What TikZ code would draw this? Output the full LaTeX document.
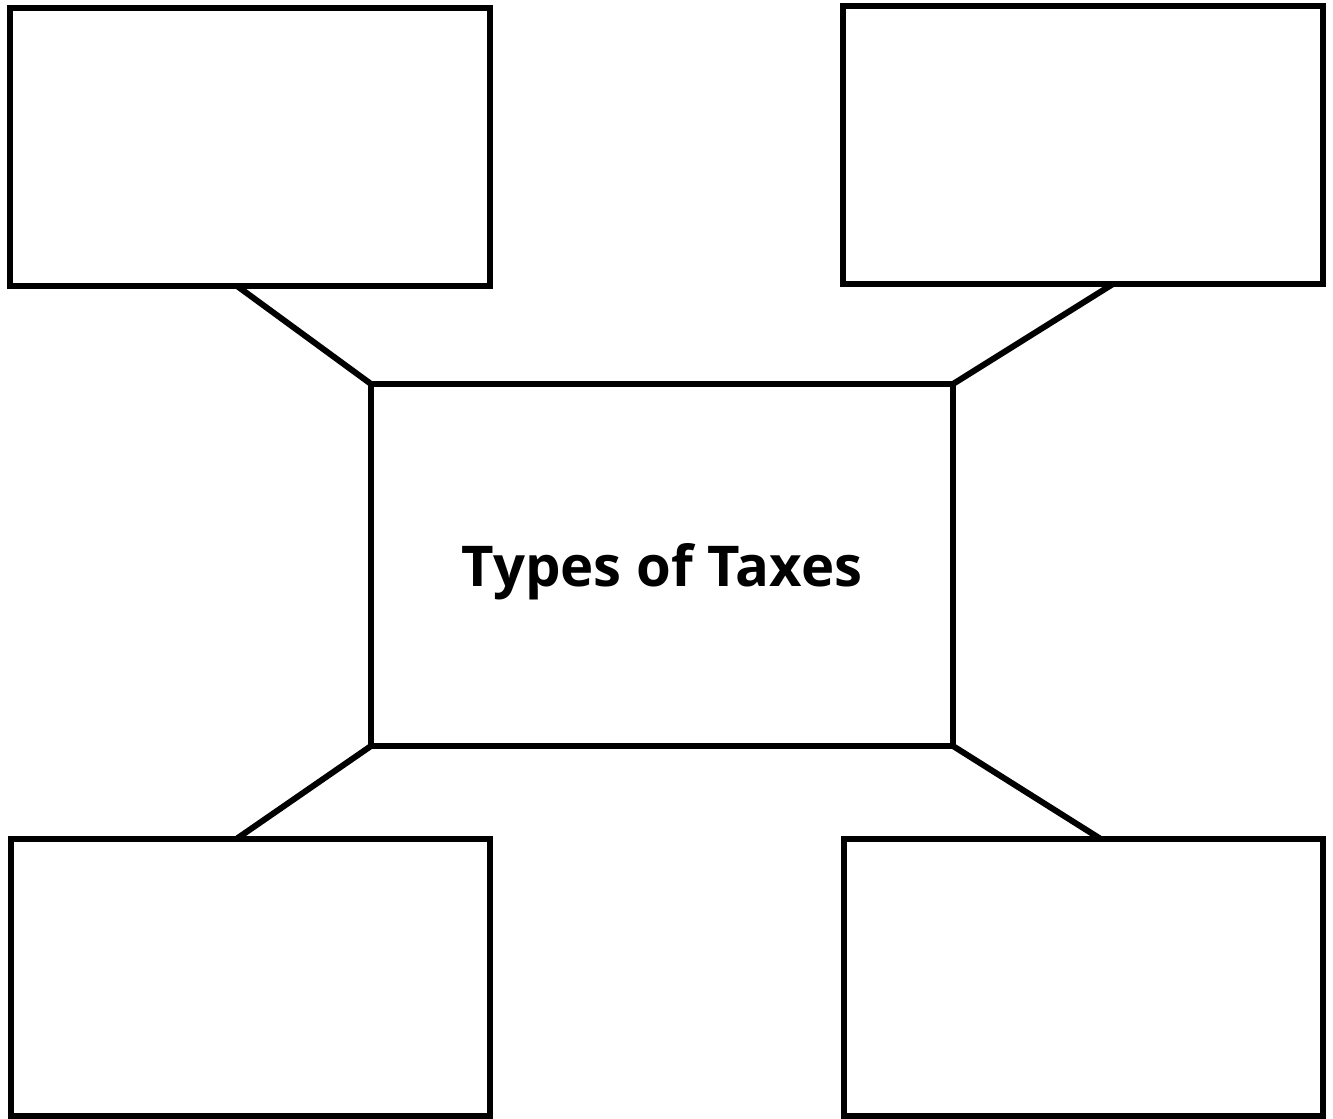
\documentclass[tikz,border=0pt]{standalone}
\usepackage{fontspec}
\setsansfont{Open Sans}
\usepackage{tikz}
\usetikzlibrary{positioning}

\tikzset{
	blank/.style={draw=black, line width=0.12cm, rectangle, fill=white, inner sep=0pt, outer sep=0pt, minimum width=9.6cm, minimum height=5.56cm},
	hub/.style={draw=black, line width=0.12cm, rectangle, inner sep=0pt, outer sep=0pt, minimum width=11.64cm, minimum height=7.24cm, text depth=0pt, font=\sffamily\bfseries\fontsize{32}{38}\selectfont},
	spoke/.style={draw=black, line width=0.12cm, line cap=round}
}

\begin{document}
\begin{tikzpicture}[x=0.02cm,y=-0.02cm]
	\useasboundingbox (0,0) rectangle (1333,1119);
	\node[hub] (taxes) at (662,565) {Types of Taxes};
	\node[blank] (tl) at (250,147) {};
	\node[blank] (tr) at (1083,145) {};
	\node[blank] (bl) at (250.5,977.5) {};
	\node[blank] (br) at (1083.5,977.5) {};
	\draw[spoke] ([xshift=-0.26cm]tl.south) -- (taxes.north west);
	\draw[spoke] ([xshift=0.6cm]tr.south) -- (taxes.north east);
	\draw[spoke] (taxes.south west) -- ([xshift=-0.27cm]bl.north);
	\draw[spoke] (taxes.south east) -- ([xshift=0.33cm]br.north);
\end{tikzpicture}
\end{document}
